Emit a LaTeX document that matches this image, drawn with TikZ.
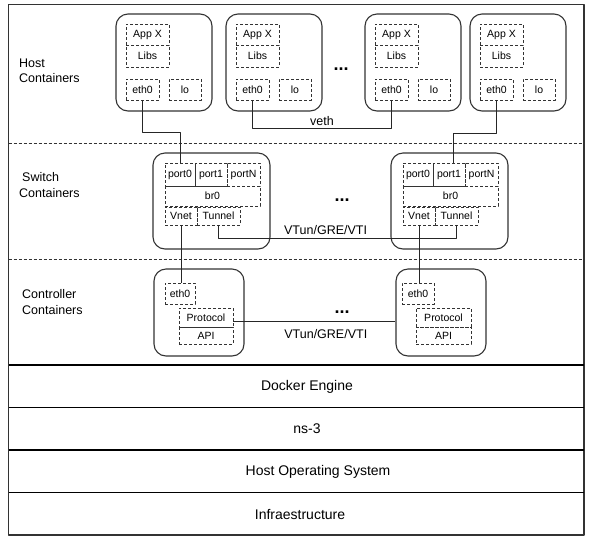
\documentclass[tikz,border=0pt]{standalone}
\usepackage{fontspec}
\setmainfont{Liberation Sans}
\begin{document}
\begin{tikzpicture}[x=1pt, y=-1pt, line join=round,
  every node/.style={font=\fontsize{10.5}{12}\selectfont, inner sep=0pt},
  sz/.style 2 args={minimum width=#1pt, minimum height=#2pt},
  cont/.style={draw=black!80, line width=1.1pt, rounded corners=12pt, rectangle},
  part/.style={draw=black!80, line width=0.9pt, dash pattern=on 3pt off 2pt, rectangle},
  wire/.style={draw=black!85, line width=0.9pt},
  rowlbl/.style={font=\fontsize{12.5}{15.5}\selectfont, align=left, anchor=west},
  wirelbl/.style={font=\fontsize{12.5}{15}\selectfont},
  biglbl/.style={font=\fontsize{14}{16}\selectfont},
  dots/.style={font=\fontsize{18}{18}\selectfont\bfseries}]
  \useasboundingbox (0,0) rectangle (594,542);
  % frame, dashed row separators, stack
  \draw[black!80, line width=1.1pt] (8.5,4.5) rectangle (584,535);
  \draw[black!80, line width=0.9pt, dash pattern=on 3pt off 2pt] (8.5,143) -- (584,143);
  \draw[black!80, line width=0.9pt, dash pattern=on 3pt off 2pt] (8.5,259) -- (584,259);
  \foreach \y in {365,407.5,450,492.5}
    \draw[line width=1.2pt] (8.5,\y) -- (584,\y);
  % row labels
  \node[rowlbl] (hostlbl) at (19,71) {Host\\Containers};
  \node[rowlbl] (swlbl) at (19,185) {\hspace*{3pt}Switch\\Containers};
  \node[rowlbl] (ctllbl) at (22,302) {Controller\\Containers};
  % host containers
  \foreach \n/\L in {1/116,2/226,3/365,4/470}{
    \node[cont, sz={96}{97}] (host\n) at (\L+48,62.5) {};
    \node[part, sz={43}{21}] (app\n) at (\L+31.5,34.5) {App X};
    \node[part, sz={43}{22}] (libs\n) at (\L+31.5,56) {Libs};
    \node[part, sz={33}{21}] (heth\n) at (\L+26.5,89.5) {eth0};
    \node[part, sz={32}{21}] (lo\n) at (\L+69,89.5) {lo};
  }
  \node[dots] (hdots) at (341,69) {...};
  % switch containers
  \foreach \n/\L in {1/153,2/391}{
    \node[cont, sz={117}{96}] (sw\n) at (\L+58.5,201) {};
    \node[part, sz={30}{23}] (pa\n) at (\L+27,174.5) {port0};
    \node[part, sz={32}{23}] (pb\n) at (\L+58,174.5) {port1};
    \node[part, sz={33}{23}] (pn\n) at (\L+90.5,174.5) {portN};
    \node[part, sz={95}{20}] (br\n) at (\L+59.5,196) {br0};
    \node[part, sz={32}{18}] (vnet\n) at (\L+28,216) {Vnet};
    \node[part, sz={43}{18}] (tun\n) at (\L+65.5,216) {Tunnel};
  }
  \node[dots] (sdots) at (342,200) {...};
  % controller containers
  \node[cont, sz={90}{87}] (ctl1) at (199,312.5) {};
  \node[part, sz={30}{21}] (ceth1) at (180,293.5) {eth0};
  \node[part, sz={54}{19}] (proto1) at (206,317.5) {Protocol};
  \node[part, sz={54}{17}] (api1) at (206,335.5) {API};
  \node[cont, sz={90}{87}] (ctl2) at (441,312.5) {};
  \node[part, sz={32}{21}] (ceth2) at (418,293.5) {eth0};
  \node[part, sz={55}{19}] (proto2) at (443.5,317.5) {Protocol};
  \node[part, sz={55}{17}] (api2) at (443.5,335.5) {API};
  \node[dots] (cdots) at (342,312) {...};
  % stack layers
  \node[biglbl] (docker) at (307,386.5) {Docker Engine};
  \node[biglbl] (ns) at (307,429) {ns-3};
  \node[biglbl] (hostos) at (318,471.5) {Host Operating System};
  \node[biglbl] (infra) at (300,514) {Infraestructure};
  % links host -> switch
  \coordinate (w1) at (0,132);
  \draw[wire] (heth1.south) |- (w1 -| pa1) -- (pa1.north);
  \coordinate (vy) at (0,128.5);
  \draw[wire] (heth2.south) -- (heth2 |- vy)
    -- node[pos=0.5, above=2pt, wirelbl] (vethlbl) {veth} (heth3 |- vy) -- (heth3.south);
  \coordinate (w4) at (0,133);
  \coordinate (pb2w) at ([xshift=4pt]pb2.north);
  \draw[wire] (heth4.south) |- (w4 -| pb2w) -- (pb2w);
  % tunnel between switches
  \coordinate (ty) at (0,238);
  \draw[wire] (tun1.south) -- (tun1 |- ty)
    -- node[pos=0.45, above=3pt, wirelbl] (tunlbl) {VTun/GRE/VTI} (tun2 |- ty) -- (tun2.south);
  % switch -> controller
  \draw[wire] (vnet1.south) -- (vnet1.south |- ceth1.north);
  \draw[wire] (vnet2.south) -- (vnet2.south |- ceth2.north);
  % controller tunnel
  \coordinate (cw) at ([yshift=-4pt]proto1.east);
  \draw[wire] (cw) -- node[pos=0.57, below=7pt, wirelbl] (ctllink) {VTun/GRE/VTI} (cw -| ctl2.west);
\end{tikzpicture}
\end{document}
